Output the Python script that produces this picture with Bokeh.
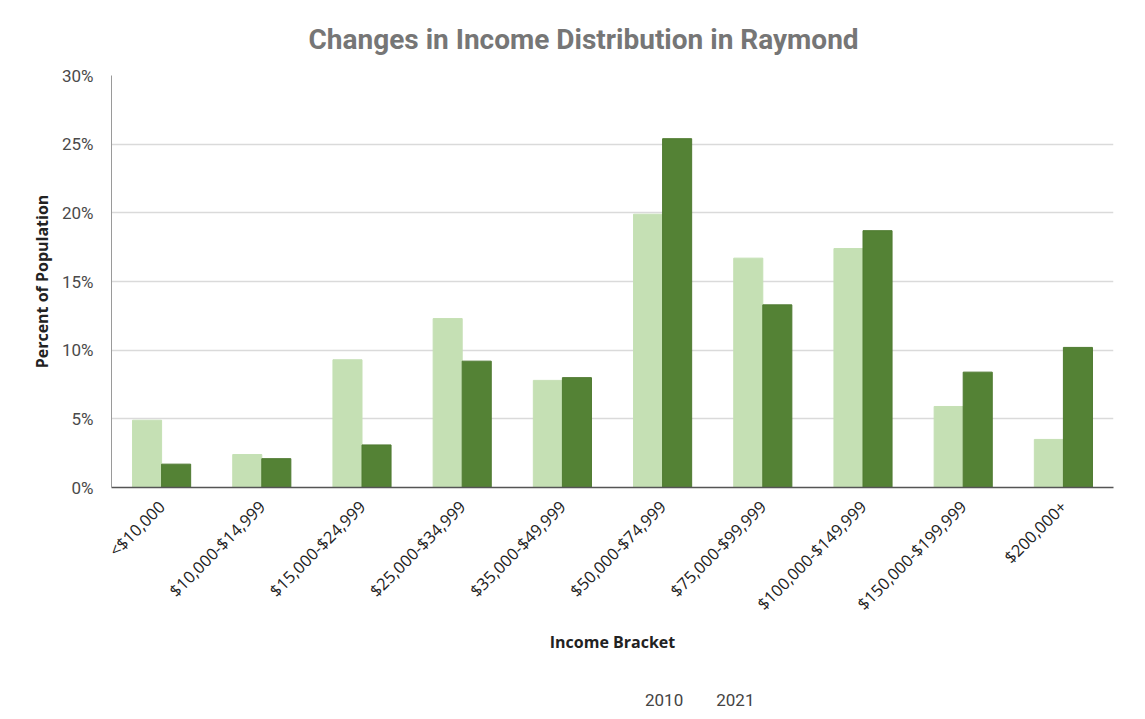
import numpy as np
from bokeh.plotting import figure
from bokeh.layouts import column
from bokeh.models import (ColumnDataSource, FactorRange, Range1d, Legend, LegendItem,
                          NumeralTickFormatter, FixedTicker, Title)
from bokeh.transform import dodge
from bokeh.embed import file_html
from bokeh.resources import INLINE

categories = ["<$10,000", "$10,000-$14,999", "$15,000-$24,999", "$25,000-$34,999",
              "$35,000-$49,999", "$50,000-$74,999", "$75,000-$99,999",
              "$100,000-$149,999", "$150,000-$199,999", "$200,000+"]
pct_2010 = [4.9, 2.4, 9.3, 12.3, 7.8, 19.9, 16.7, 17.4, 5.9, 3.5]
pct_2021 = [1.7, 2.1, 3.1, 9.2, 8.0, 25.4, 13.3, 18.7, 8.4, 10.2]
y_ticks = [0, 5, 10, 15, 20, 25, 30]
series_names = ["2010", "2021"]
series_colors = ["#c5e0b4", "#548235"]

src = ColumnDataSource(dict(cat=categories,
                            v2010=[v / 100 for v in pct_2010],
                            v2021=[v / 100 for v in pct_2021]))

p = figure(x_range=FactorRange(*categories), y_range=Range1d(0, 0.30),
           frame_width=1002, frame_height=412, output_backend="svg", toolbar_location=None,
           min_border_left=111, min_border_right=20, min_border_top=75,
           min_border_bottom=180)
p.outline_line_color = None

p.vbar(x=dodge("cat", -0.145, range=p.x_range), top="v2010", width=0.29,
       source=src, fill_color=series_colors[0], line_color=series_colors[0])
p.vbar(x=dodge("cat", 0.145, range=p.x_range), top="v2021", width=0.29,
       source=src, fill_color=series_colors[1], line_color="#4f7a31")

p.title = Title(text="Changes in Income Distribution in Raymond", align="left",
                offset=197, text_font="Roboto", text_font_size="28px",
                text_font_style="bold", text_color="#767676", standoff=39)

p.yaxis.ticker = FixedTicker(ticks=[t / 100 for t in y_ticks])
p.yaxis.formatter = NumeralTickFormatter(format="0%")
p.yaxis.major_tick_line_color = None
p.yaxis.minor_tick_line_color = None
p.yaxis.axis_line_color = "#9a9a9a"
p.yaxis.major_label_text_font = "Roboto"
p.yaxis.major_label_text_font_size = "17px"
p.yaxis.major_label_text_color = "#4a4a4a"
p.yaxis.major_label_standoff = 12
p.yaxis.axis_label = "Percent of Population"
p.yaxis.axis_label_text_font = "Open Sans"
p.yaxis.axis_label_text_font_size = "16px"
p.yaxis.axis_label_text_font_style = "bold"
p.yaxis.axis_label_text_color = "#222222"
p.yaxis.axis_label_standoff = 6

p.xaxis.major_tick_line_color = None
p.xaxis.axis_line_color = "#555555"
p.xaxis.axis_line_width = 1.5
p.xaxis.major_label_orientation = np.pi / 4
p.xaxis.major_label_text_font = "Open Sans"
p.xaxis.major_label_text_font_size = "16.5px"
p.xaxis.major_label_text_color = "#222222"
p.xaxis.major_label_standoff = 10
p.xaxis.axis_label = "Income Bracket"
p.xaxis.axis_label_text_font = "Open Sans"
p.xaxis.axis_label_text_font_size = "16px"
p.xaxis.axis_label_text_font_style = "bold"
p.xaxis.axis_label_text_color = "#222222"
p.xaxis.axis_label_standoff = 5

p.xgrid.grid_line_color = None
p.ygrid.grid_line_color = "#dadada"
p.ygrid.grid_line_width = 1.5

# Separate strip below the chart that holds only the legend
leg = figure(width=1133, height=50, x_range=Range1d(0, 1), y_range=Range1d(0, 1),
             x_axis_type=None, y_axis_type=None, output_backend="svg",
             toolbar_location=None, min_border=0)
leg.outline_line_color = None
leg.grid.visible = False
items = []
for name, color in zip(series_names, series_colors):
    r = leg.vbar(x=[], top=[], width=0.1, fill_color=color, line_color=color)
    items.append(LegendItem(label=name, renderers=[r]))
legend = Legend(items=items, orientation="horizontal", location=(517, 7),
                label_text_font="Roboto", label_text_font_size="17px",
                label_text_color="#444444", glyph_width=13, glyph_height=13,
                spacing=16, label_standoff=4, border_line_color=None,
                background_fill_alpha=0, margin=0, padding=8)
leg.add_layout(legend, "center")

layout = column(p, leg, spacing=0)
open("out.html", "w").write(file_html(layout, INLINE))
